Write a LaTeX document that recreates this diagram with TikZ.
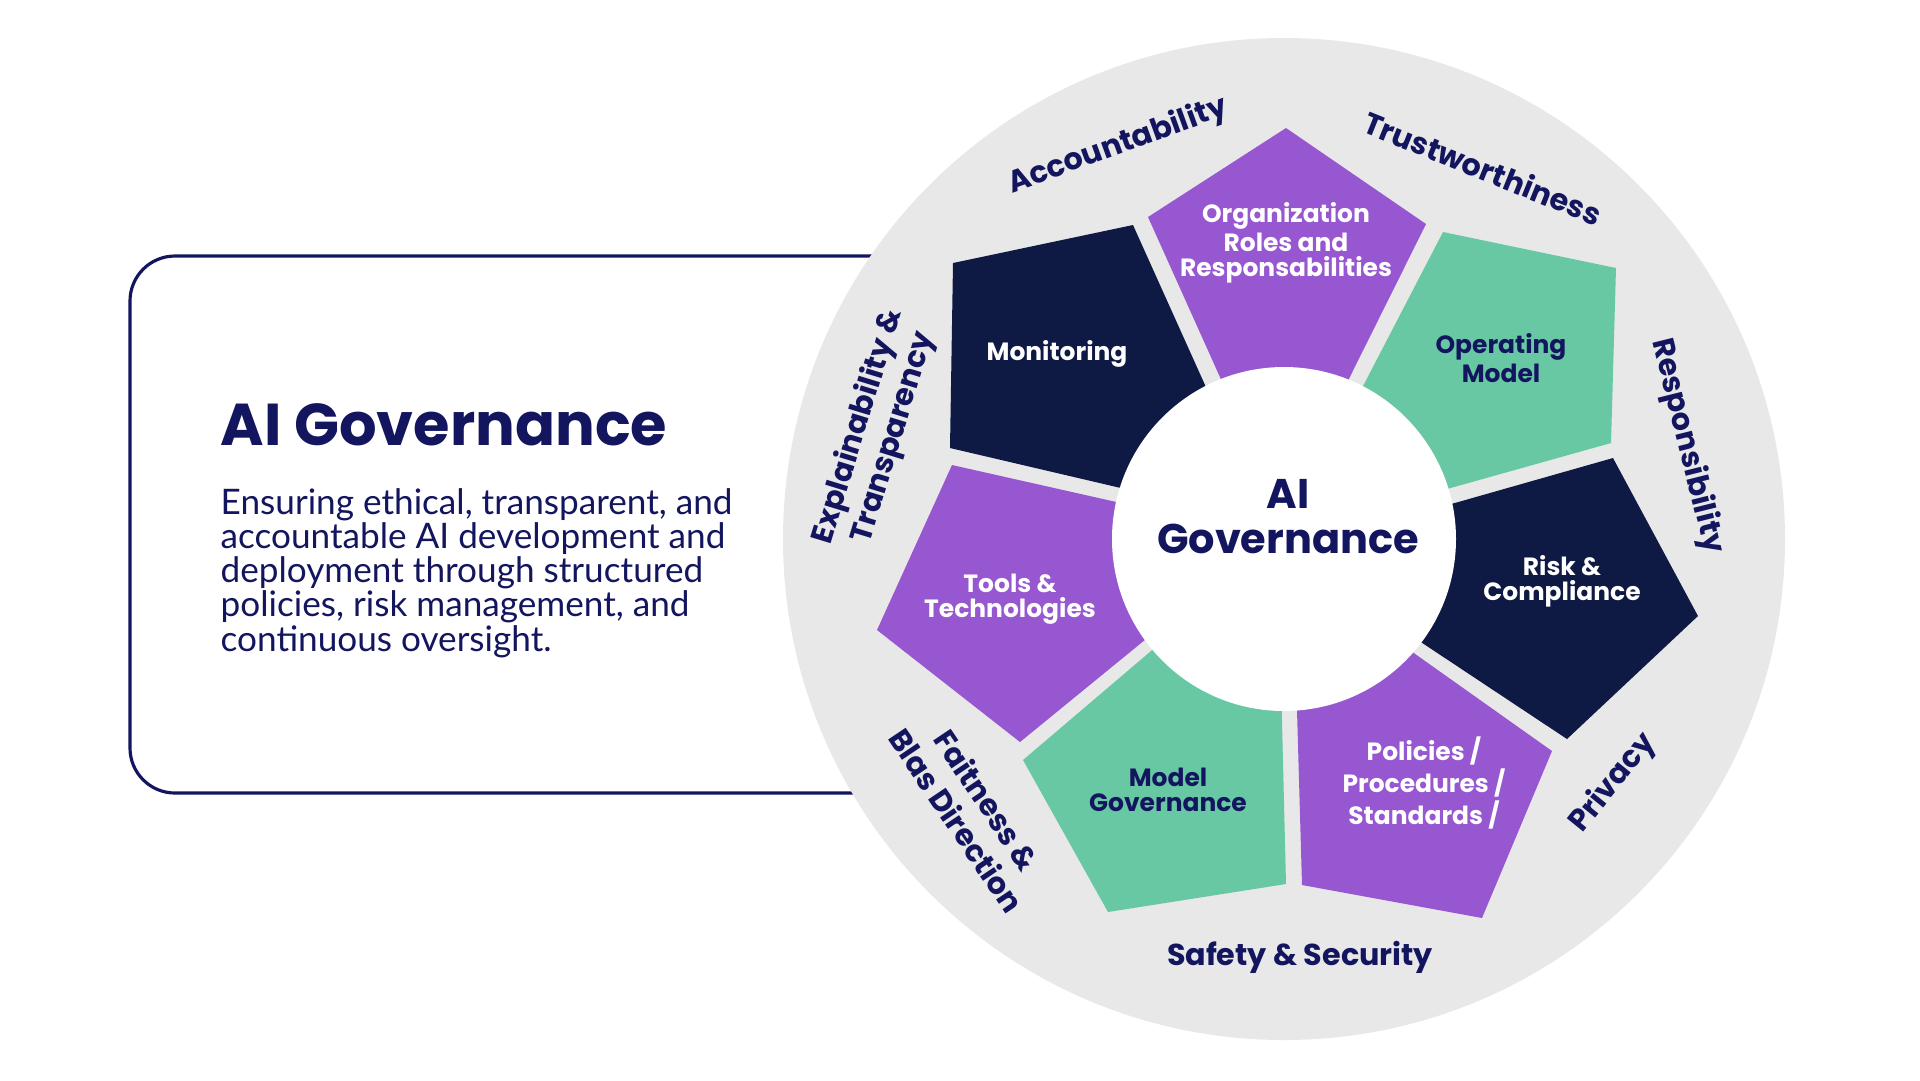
\documentclass[tikz,border=0pt]{standalone}
\usepackage{fontspec}
\usepackage{xcolor}
\usepackage{tikz}
\setmainfont{Poppins}
\newfontfamily\bodyfont{Lato}

\definecolor{govtext}{HTML}{13165F}
\definecolor{govnavy}{HTML}{0E1A44}
\definecolor{govpurple}{HTML}{9757D0}
\definecolor{govgreen}{HTML}{68C8A4}
\definecolor{govgray}{HTML}{E8E8E8}

\tikzset{
  boxline/.style   = {draw=govtext, line width=0.9pt, rounded corners=4.5mm},
  pentlabel/.style = {align=center, font=\fontsize{7.1}{7.1}\selectfont\bfseries},
  outlabel/.style  = {align=center, text=govtext, font=\fontsize{8.6}{10.4}\selectfont\bfseries},
}

\begin{document}
\begin{tikzpicture}[x=0.1mm, y=-0.1mm]
    \useasboundingbox (0,0) rectangle (1920,1080);
    \fill[white] (0,0) rectangle (1920,1080);

    % riquadro a sinistra
    \draw[boxline] (130,256) rectangle (1000,793);
    \node[anchor=base west, inner sep=0pt, text=govtext, font=\fontsize{16.8}{18}\selectfont\bfseries]
      (title) at (220,445) {AI Governance};
    \node[anchor=base west, text=govtext, align=left, inner sep=0pt,
          font=\bodyfont\fontsize{10}{9.7}\selectfont]
      (body) at (220,651) {Ensuring ethical, transparent, and\\
        accountable AI development and\\
        deployment through structured\\
        policies, risk management, and\\
        continuous oversight.};

    % ruota
    \fill[govgray] (1284,539) circle [radius=50.1mm];

    % i sette pentagoni
    \fill[govpurple] (1148,217) -- (1286,128) -- (1426,224) -- (1322,433) -- (1246,435) -- cycle; % organization
    \fill[govgreen]  (1443,232) -- (1616,268) -- (1611,443) -- (1390,505) -- (1334,442) -- cycle; % operating
    \fill[govnavy]   (1613,458) -- (1698,616) -- (1567,739) -- (1365,605) -- (1395,520) -- cycle; % risk
    \fill[govpurple] (1552,751) -- (1482,918) -- (1302,885) -- (1295,640) -- (1363,617) -- cycle; % policies
    \fill[govgreen]  (1286,884) -- (1108,912) -- (1023,760) -- (1205,605) -- (1280,640) -- cycle; % model
    \fill[govpurple] (1020,742) -- (877,630)  -- (952,465)  -- (1183,517) -- (1195,599) -- cycle; % tools
    \fill[govnavy]   (950,448)  -- (953,263)  -- (1133,225) -- (1232,445) -- (1185,503) -- cycle; % monitoring

    % centro
    \fill[white] (1284,539) circle [radius=17.2mm];
    \node[anchor=base, align=center, text=govtext, font=\fontsize{11.8}{12.8}\selectfont\bfseries]
      (hub) at (1288,553) {AI\\Governance};

    % etichette dei pentagoni
    \node[pentlabel, text=white]   (org)  at (1286,243) {Organization\\Roles and\\Responsabilities};
    \node[pentlabel, text=govtext] (opm)  at (1501,358) {Operating\\Model};
    \node[pentlabel, text=white]   (risk) at (1562,581) {Risk \&\\Compliance};
    \node[pentlabel, text=white]   (pol)  at (1424,783) {Policies /\\Procedures /\\Standards /};
    \node[pentlabel, text=govtext] (mod)  at (1168,790) {Model\\Governance};
    \node[pentlabel, text=white]   (tool) at (1010,599) {Tools \&\\Technologies};
    \node[pentlabel, text=white]   (mon)  at (1057,354) {Monitoring};

    % valori sul bordo
    \node[outlabel, rotate=20]  (acc)   at (1118,146) {Accountability};
    \node[outlabel, rotate=-22] (trust) at (1483,168) {Trustworthiness};
    \node[outlabel, rotate=-76] (resp)  at (1687,446) {Responsibility};
    \node[outlabel, rotate=51]  (priv)  at (1613,783) {Privacy};
    \node[outlabel, anchor=base] (safe) at (1300,965) {Safety \& Security};
    \node[outlabel, rotate=-56] (fair)  at (972,810)  {Faitness \&\\Blas Direction};
    \node[outlabel, rotate=73]  (expl)  at (876,432)  {Explainability \&\\Transparency};
\end{tikzpicture}
\end{document}
